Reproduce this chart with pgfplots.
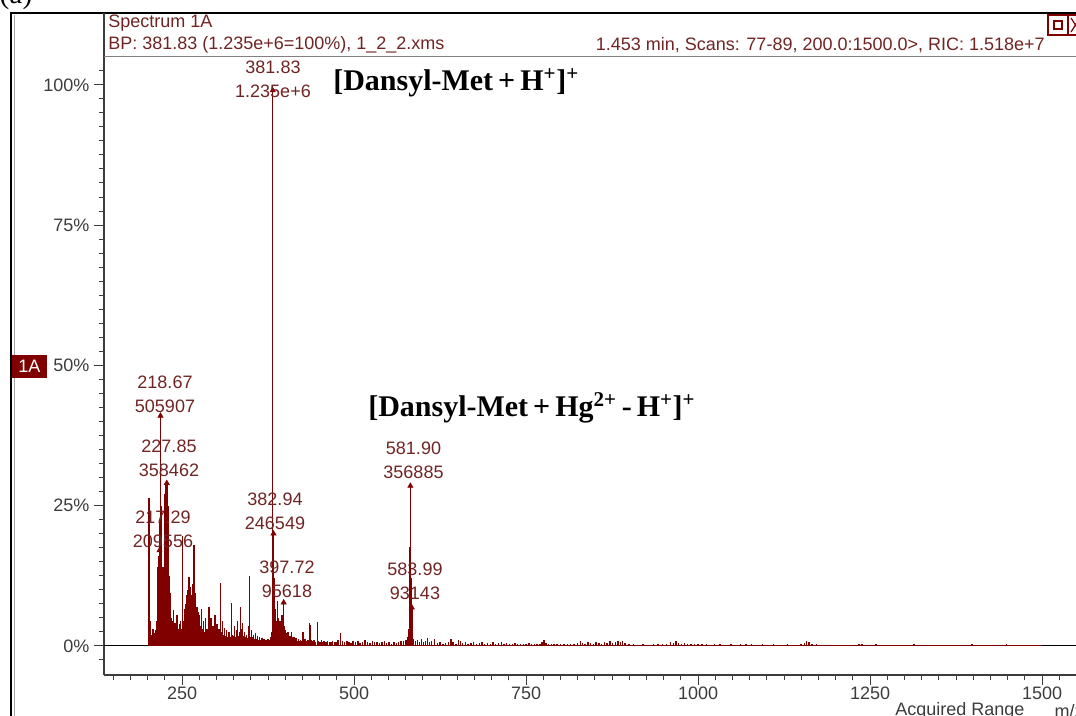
\documentclass[border=0pt]{standalone}
\usepackage{fontspec}
\setmainfont{Liberation Serif}
\newfontfamily\ui{Liberation Sans}
\usepackage{pgfplots}
\pgfplotsset{compat=1.18}
\definecolor{spec}{RGB}{128,0,0}
\definecolor{lbl}{RGB}{112,36,36}
\definecolor{axgray}{RGB}{60,60,60}

\pgfplotstableread{
mz pct
201.0 0.8
202.0 26.4
202.8 4.8
203.6 3.5
204.5 4.5
205.5 2.0
206.5 1.5
207.5 3.0
208.5 1.6
209.5 2.2
210.5 1.8
211.5 2.8
212.5 2.0
213.5 4.5
214.5 9.0
215.3 14.0
216.0 16.0
217.29 17.0
218.0 22.0
218.67 41.0
219.3 25.0
220.0 18.0
220.7 14.0
221.4 10.0
222.1 7.5
222.8 9.0
223.5 14.0
224.2 20.0
224.9 24.5
225.6 27.0
226.3 28.0
227.0 28.6
227.85 29.0
228.6 27.5
229.3 25.0
230.0 21.0
230.7 16.5
231.4 12.5
232.1 9.5
232.8 7.0
233.6 9.4
234.4 5.0
235.2 3.8
236.0 4.5
236.8 3.2
237.6 6.4
238.4 3.5
239.2 2.8
240.0 4.0
241.0 3.2
242.0 2.5
243.0 5.5
244.0 3.0
245.0 2.6
246.0 3.8
247.0 2.4
248.0 4.5
249.0 3.0
250.5 19.5
251.5 3.5
252.5 4.5
253.5 5.5
254.5 6.5
255.5 7.5
256.5 8.5
257.5 9.0
258.5 10.0
259.5 9.5
260.2 12.3
261.0 8.0
262.0 10.5
263.0 7.0
264.0 9.0
265.0 11.0
266.0 8.0
267.4 18.0
268.5 7.0
269.5 9.5
270.5 5.5
271.5 7.0
272.5 4.5
273.5 6.0
274.5 3.8
275.5 5.5
277.0 3.5
278.5 6.5
280.0 3.0
281.5 4.5
283.0 2.5
284.5 5.0
286.0 3.0
287.5 2.2
289.2 7.0
290.5 2.8
292.0 5.0
293.5 2.0
295.0 3.5
296.5 1.8
298.0 5.5
299.5 2.2
301.0 3.8
302.5 1.8
304.0 3.0
306.2 11.2
307.5 2.5
309.0 4.5
310.5 2.0
312.0 3.2
313.5 1.8
315.0 2.8
316.5 1.6
318.3 2.5
320.0 1.5
322.2 7.7
323.5 2.0
325.0 1.8
326.5 3.5
328.0 1.5
329.5 2.8
331.0 4.5
332.5 1.8
334.0 2.5
335.3 7.0
336.5 3.0
338.0 4.0
339.5 1.8
341.0 2.5
342.5 1.5
344.0 2.0
345.5 1.4
347.0 3.5
348.3 12.5
349.5 1.6
351.0 2.8
352.5 1.5
354.0 2.0
355.5 1.3
357.1 2.3
358.5 1.2
360.0 1.8
361.5 1.0
363.0 1.5
364.5 1.0
366.0 1.4
367.5 0.9
369.0 1.2
370.5 0.8
372.0 1.1
373.5 0.9
375.0 1.3
376.5 0.8
378.0 1.0
379.5 1.5
380.5 2.5
381.83 100
382.94 20.0
383.8 12.0
384.7 9.0
385.6 6.5
386.5 4.5
387.4 3.5
388.6 8.0
389.5 3.5
390.5 5.0
391.5 3.0
392.5 4.5
393.5 2.5
394.5 3.0
395.5 5.5
396.5 4.0
397.72 7.7
398.8 3.5
400.0 2.8
401.0 2.2
402.5 1.8
404.0 2.5
405.5 1.6
407.0 1.8
408.9 2.4
410.0 1.5
411.5 1.2
413.0 1.6
414.5 1.0
416.0 1.4
417.5 0.9
419.0 1.3
420.5 0.9
422.0 1.1
424.0 0.8
426.0 2.5
427.5 0.9
429.0 1.2
431.0 0.8
433.0 1.0
435.6 4.0
437.1 3.7
438.5 1.0
440.0 0.8
442.0 1.0
444.0 0.7
446.7 4.3
448.5 0.8
450.5 0.7
452.5 1.0
454.5 0.6
456.5 0.9
459.0 0.6
461.5 0.8
464.0 0.7
466.5 0.6
469.0 0.9
471.5 0.6
474.0 0.7
477.0 1.0
480.6 2.3
483.5 0.8
486.5 0.6
489.5 0.9
492.5 0.7
495.5 0.5
498.5 0.9
502.0 0.6
505.5 0.8
509.0 0.5
512.5 0.7
516.0 1.0
519.5 0.6
523.0 0.5
526.5 0.8
530.0 0.6
533.5 0.7
537.0 0.5
540.5 0.6
544.0 0.9
547.5 0.5
551.0 0.6
554.5 0.4
558.0 0.7
561.5 0.5
565.0 0.6
568.5 0.8
572.0 0.9
575.5 1.0
578.0 1.5
579.5 3.0
580.9 17.6
581.90 28.5
582.9 12.0
583.99 6.8
585.0 2.5
586.5 1.2
589.0 0.8
592.0 1.0
595.0 0.6
598.0 1.2
601.0 0.7
604.0 0.9
607.0 1.4
610.0 0.6
613.0 0.8
617.0 1.2
621.0 0.5
625.0 0.7
629.0 0.4
633.0 0.5
637.0 0.6
641.0 1.2
644.0 0.7
648.0 0.4
652.0 1.0
655.0 0.8
658.0 0.5
662.0 0.6
666.0 0.4
670.0 0.5
674.0 0.6
678.0 0.4
682.0 0.5
686.0 0.6
690.0 0.4
694.0 0.5
698.0 0.4
702.0 0.6
706.0 0.4
710.0 0.5
714.0 0.6
718.0 0.3
722.0 0.5
726.0 0.4
730.0 0.3
734.0 0.5
738.0 0.4
742.0 0.3
746.0 0.4
750.0 0.3
754.0 0.5
758.0 0.3
762.0 0.4
766.0 0.3
770.0 0.4
773.0 0.6
776.0 1.1
779.0 0.5
783.0 0.3
787.0 0.4
791.0 0.3
795.0 0.4
800.0 0.3
805.0 0.4
810.0 0.3
815.0 0.4
820.0 0.3
825.0 0.5
829.0 0.8
832.0 0.5
836.0 0.4
840.0 0.6
844.0 0.5
848.0 0.4
852.0 0.6
856.0 0.5
860.0 0.4
864.0 0.7
868.0 0.5
872.0 0.8
876.0 0.5
880.0 0.6
884.0 0.9
887.0 0.6
890.0 0.8
894.0 0.5
900.0 0.3
906.0 0.3
912.0 0.2
920.0 0.3
928.0 0.2
935.0 0.3
942.0 0.4
948.0 0.3
954.0 0.4
960.0 0.6
964.0 0.5
968.0 0.8
972.0 0.5
976.0 0.4
980.0 0.5
985.0 0.3
990.0 0.4
995.0 0.3
1000.0 0.3
1006.0 0.4
1012.0 0.3
1018.0 0.2
1024.0 0.3
1032.0 0.3
1040.0 0.2
1048.0 0.3
1056.0 0.2
1062.0 0.4
1070.0 0.3
1078.0 0.4
1086.0 0.2
1094.0 0.3
1102.0 0.2
1110.0 0.3
1120.0 0.2
1130.0 0.4
1140.0 0.2
1150.0 0.4
1155.0 0.5
1158.0 0.9
1161.0 0.6
1166.0 0.4
1172.0 0.3
1180.0 0.2
1195.0 0.2
1210.0 0.2
1228.0 0.2
1234.0 0.4
1238.0 0.3
1259.0 0.3
1280.0 0.2
1300.0 0.2
1314.0 0.4
1340.0 0.2
1370.0 0.2
1398.0 0.4
1420.0 0.2
1448.0 0.4
1475.0 0.2
1495.0 0.2
}\spectrum

\newcommand{\uifont}{\ui\fontsize{13.5}{18}\selectfont}

\begin{document}
\begin{tikzpicture}[x=0.75pt,y=0.75pt]
% picture units are reference pixels, Y = 716 - py
\path[use as bounding box] (0,0) rectangle (1076,716);
\clip (0,0) rectangle (1076,716);

\begin{axis}[
    at={(78pt,30.75pt)}, anchor=south west,
    x=0.516pt, y=4.2075pt,
    xmin=136.6, xmax=1560, ymin=-5.2, ymax=105,
    axis x line*=bottom, axis y line*=left,
    axis line style={axgray, line width=0.9pt},
    clip=false,
    xtick={250,500,...,1500},
    minor xtick={150,175,...,1550},
    ytick={0,25,50,75,100},
    minor ytick={-2.5,0,2.5,...,102.5},
    yticklabel={\pgfmathprintnumber{\tick}\%},
    tick align=outside,
    major tick length=7.5pt, minor tick length=4pt,
    tick style={axgray, line width=0.75pt},
    ticklabel style={font=\uifont, text=axgray},
    xticklabel style={yshift=2pt},
    /pgf/number format/assume math mode=true,
    /pgf/number format/1000 sep={},
]
\addplot[black, line width=0.9pt] coordinates {(136.6,0) (1560,0)};
\addplot[spec, line width=0.9pt] coordinates {(200,0) (1500,0)};
\addplot[ycomb, spec, line width=1.1pt, no marks] table[x=mz, y=pct] {\spectrum};
\addplot[only marks, mark=triangle*, mark size=2.3pt, spec] coordinates {
    (217.29,17.0) (218.67,41.0) (227.85,29.0) (381.83,99.0)
    (382.94,20.0) (397.72,7.7) (581.90,28.5) (583.99,6.8)
};
\end{axis}

% window frame
\draw[black, line width=2.2pt] (10,716-13) -- (1076,716-13);
\draw[black, line width=2.2pt] (11,0) -- (11,716-13);
\draw[gray!70, line width=0.75pt] (14,0) -- (14,716-15);
\draw[axgray, line width=0.9pt] (104,716-57) -- (104,716-13);
\draw[gray, line width=0.75pt] (104,716-57) -- (1076,716-57);

% header
\node[anchor=west, font=\uifont, text=lbl, inner sep=0] at (108,716-23) {Spectrum 1A};
\node[anchor=west, font=\uifont, text=lbl, inner sep=0] at (108,716-45) {BP: 381.83 (1.235e+6=100\%), 1\_2\_2.xms};
\node[anchor=east, font=\uifont, text=lbl, inner sep=0] at (1045,716-45) {1.453 min, Scans: 77-89, 200.0:1500.0>, RIC: 1.518e+7};
\draw[spec, line width=0.9pt] (1048,716-15) rectangle (1068,716-35);
\draw[spec, line width=0.9pt] (1054,716-21) rectangle (1062,716-29);
\draw[spec, line width=0.9pt] (1068,716-15) rectangle (1090,716-35);
\draw[spec, line width=0.9pt] (1071,716-18) -- (1080,716-32) (1071,716-32) -- (1080,716-18);

% 1A badge
\fill[spec] (12,716-378) rectangle (47,716-355);
\node[font=\uifont, text=white] at (29.5,716-366.5) {1A};

% panel letter (cut by top edge)
\node[font=\fontsize{22}{24}\selectfont] at (16,716+4) {(a)};

% bottom texts (cut by bottom edge, as in the reference)
\node[font=\uifont, text=axgray] at (960,716-711) {Acquired Range};
\node[anchor=west, font=\uifont, text=axgray] at (1050,716-711) {m/z};

% peak labels
\begin{scope}[every node/.style={align=center, font=\uifont, text=lbl, inner sep=0}]
\node at (273,716-79.5) {381.83\\1.235e+6};
\node at (165,716-394) {218.67\\505907};
\node at (169,716-458.5) {227.85\\358462};
\node at (163,716-529) {217.29\\209556};
\node at (275,716-511) {382.94\\246549};
\node at (287,716-579.5) {397.72\\95618};
\node at (413.5,716-460) {581.90\\356885};
\node at (415,716-581.5) {583.99\\93143};
\end{scope}

% ion annotations
\node[anchor=west, font=\fontsize{22.5}{26}\selectfont\bfseries, inner sep=0] at (333,716-83)
    {[Dansyl-Met\,+\,H\textsuperscript{+}]\textsuperscript{+}};
\node[anchor=west, font=\fontsize{22.5}{26}\selectfont\bfseries, inner sep=0] at (368,716-408)
    {[Dansyl-Met\,+\,Hg\textsuperscript{2+}\,-\,H\textsuperscript{+}]\textsuperscript{+}};
\end{tikzpicture}
\end{document}
